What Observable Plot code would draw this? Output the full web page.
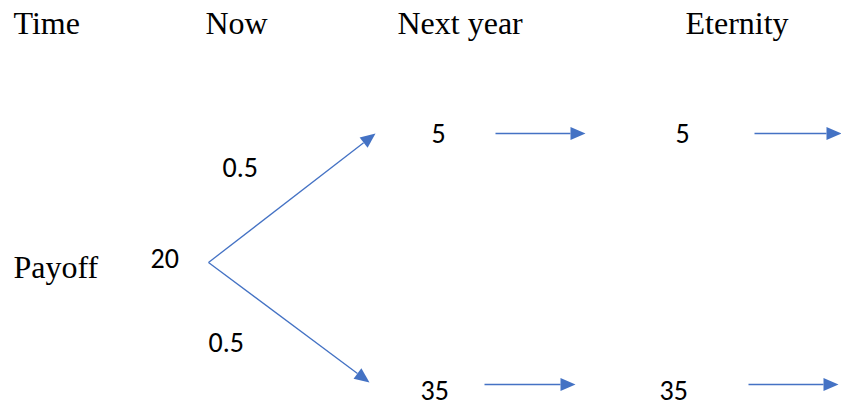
<!DOCTYPE html>
<html><head><meta charset="utf-8">
<script src="https://cdn.jsdelivr.net/npm/d3@7"></script>
<script src="https://cdn.jsdelivr.net/npm/@observablehq/plot@0.6"></script>
<style>body{margin:0;background:#fff}</style>
</head><body><div id="chart"></div>
<script>
// Data
const headerLabels = ["Time", "Now", "Next year", "Eternity"];
const rowLabel = "Payoff";
const payoffNow = 20;
const probabilities = [0.5, 0.5];
const payoffNextYear = [5, 35];
const payoffEternity = [5, 35];

// Layout (pixel positions of the diagram)
const headerX = [13, 205, 397, 685];
const headerY = 33;
const rowLabelPos = [13, 277];
const nowPos = [150, 267];
const probPos = [[222, 176], [208, 351]];
const nextPos = [[431, 142], [420, 399]];
const eterPos = [[675, 142], [659, 399]];
const branchFrom = [208, 262];
const branchTo = [[375, 133], [369, 382]];
const flatArrows = [
  [495, 585, 133], [754, 841, 133],
  [484, 575, 384], [748, 838, 384]
];

const blue = "#4472C4";
const serif = "'Liberation Serif', 'Times New Roman', serif";
const sans = "Carlito, Calibri, 'Open Sans', sans-serif";

const headLen = 15, headHalf = 6.5;

const arrows = [
  ...branchTo.map(t => ({x1: branchFrom[0], y1: branchFrom[1], x2: t[0], y2: t[1]})),
  ...flatArrows.map(([a, b, y]) => ({x1: a, y1: y, x2: b, y2: y}))
].map(d => {
  const ang = Math.atan2(d.y2 - d.y1, d.x2 - d.x1);
  return {...d,
    bx: d.x2 - headLen * Math.cos(ang),
    by: d.y2 - headLen * Math.sin(ang),
    rot: ang * 180 / Math.PI + 90};
});

const headSymbol = {
  draw(ctx) {
    ctx.moveTo(0, 0);
    ctx.lineTo(headHalf, headLen);
    ctx.lineTo(-headHalf, headLen);
    ctx.closePath();
  }
};

const headers = headerLabels.map((t, i) => ({t, x: headerX[i], y: headerY}));
const numbers = [
  {t: String(payoffNow), x: nowPos[0], y: nowPos[1]},
  ...probabilities.map((p, i) => ({t: String(p), x: probPos[i][0], y: probPos[i][1]})),
  ...payoffNextYear.map((v, i) => ({t: String(v), x: nextPos[i][0], y: nextPos[i][1]})),
  ...payoffEternity.map((v, i) => ({t: String(v), x: eterPos[i][0], y: eterPos[i][1]}))
];

const plot = Plot.plot({
  width: 841, height: 406,
  margin: 0,
  x: {domain: [0, 841], range: [0, 841], axis: null},
  y: {domain: [0, 406], range: [0, 406], axis: null},
  style: {background: "#fff"},
  marks: [
    Plot.link(arrows, {x1: "x1", y1: "y1", x2: "bx", y2: "by", stroke: blue, strokeWidth: 1.3}),
    Plot.dot(arrows, {x: "x2", y: "y2", symbol: headSymbol, rotate: "rot", fill: blue, stroke: "none"}),
    Plot.text(headers, {x: "x", y: "y", text: "t", textAnchor: "start", lineAnchor: "bottom",
      fontFamily: serif, fontSize: 32, fill: "#000"}),
    Plot.text([{t: rowLabel, x: rowLabelPos[0], y: rowLabelPos[1]}], {x: "x", y: "y", text: "t",
      textAnchor: "start", lineAnchor: "bottom", fontFamily: serif, fontSize: 32, fill: "#000"}),
    Plot.text(numbers, {x: "x", y: "y", text: "t", textAnchor: "start", lineAnchor: "bottom",
      fontFamily: sans, fontSize: 28, fill: "#000"})
  ]
});
document.getElementById("chart").appendChild(plot);
</script>
</body></html>
